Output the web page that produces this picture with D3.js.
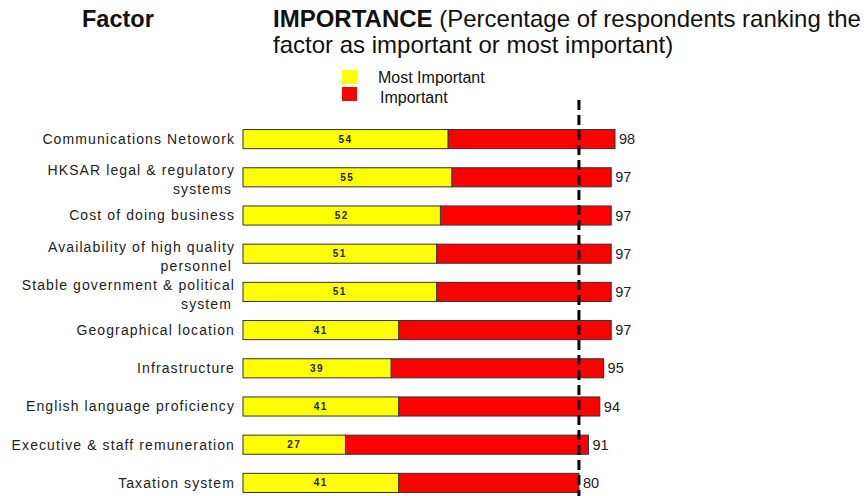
<!DOCTYPE html>
<html><head><meta charset="utf-8">
<script src="https://cdn.jsdelivr.net/npm/d3@7"></script>
<style>body{margin:0;background:#fff}svg{display:block}</style>
</head><body>
<script>
const categories = [
  ["Communications Netowork"],
  ["HKSAR legal & regulatory", "systems"],
  ["Cost of doing business"],
  ["Availability of high quality", "personnel"],
  ["Stable government & political", "system"],
  ["Geographical location"],
  ["Infrastructure"],
  ["English language proficiency"],
  ["Executive & staff remuneration"],
  ["Taxation system"]
];
const mostImportant = [54, 55, 52, 51, 51, 41, 39, 41, 27, 41];
const totalImportance = [98, 97, 97, 97, 97, 97, 95, 94, 91, 88.5];
const totalLabels = ["98", "97", "97", "97", "97", "97", "95", "94", "91", "80"];
const legendItems = ["Most Important", "Important"];
const referenceValue = 88.5;

const W = 866, H = 496;
const svg = d3.select("body").append("svg").attr("width", W).attr("height", H);
const font = "'Liberation Sans', Arial, sans-serif";

const x = d3.scaleLinear().domain([0, 98]).range([243, 615]);
const y = d3.scaleBand().domain(d3.range(categories.length)).range([120, 502]).paddingInner(0.5).paddingOuter(0.25);
const colors = d3.scaleOrdinal().domain(legendItems).range(["#ffff00", "#ff0000"]);

// titles
svg.append("text").attr("x", 82).attr("y", 27).attr("font-family", font).attr("font-size", 23.5)
  .attr("font-weight", "bold").attr("fill", "#111").text("Factor");
const t1 = svg.append("text").attr("x", 273).attr("y", 27).attr("font-family", font).attr("font-size", 24).attr("fill", "#111");
t1.append("tspan").attr("font-weight", "bold").text("IMPORTANCE");
t1.append("tspan").text(" (Percentage of respondents ranking the");
svg.append("text").attr("x", 273).attr("y", 53).attr("font-family", font).attr("font-size", 24).attr("fill", "#111")
  .text("factor as important or most important)");

// legend
const lg = svg.append("g");
legendItems.forEach((name, i) => {
  lg.append("rect").attr("x", 342).attr("y", 70 + i * 17).attr("width", 15).attr("height", 14).attr("fill", colors(name));
  lg.append("text").attr("x", 378 + i * 2).attr("y", 77.5 + i * 19.5).attr("dy", "0.35em")
    .attr("font-family", font).attr("font-size", 16).attr("fill", "#111").text(name);
});

// bars
const rows = svg.append("g").selectAll("g").data(categories).join("g");
rows.append("rect").attr("x", (d, i) => x(mostImportant[i])).attr("y", (d, i) => y(i))
  .attr("width", (d, i) => x(totalImportance[i]) - x(mostImportant[i])).attr("height", y.bandwidth())
  .attr("fill", colors("Important")).attr("stroke", "#333").attr("stroke-width", 1);
rows.append("rect").attr("x", x(0)).attr("y", (d, i) => y(i))
  .attr("width", (d, i) => x(mostImportant[i]) - x(0)).attr("height", y.bandwidth())
  .attr("fill", colors("Most Important")).attr("stroke", "#333").attr("stroke-width", 1);

// yellow labels
rows.append("text").attr("x", (d, i) => (x(0) + x(mostImportant[i])) / 2).attr("y", (d, i) => y(i) + y.bandwidth() / 2)
  .attr("dy", "0.35em").attr("text-anchor", "middle").attr("font-family", font).attr("font-size", 10)
  .attr("font-weight", "bold").attr("letter-spacing", 1.5).attr("fill", "#222").text((d, i) => mostImportant[i]);

// total labels
rows.append("text").attr("x", (d, i) => x(totalImportance[i]) + 4).attr("y", (d, i) => y(i) + y.bandwidth() / 2)
  .attr("dy", "0.35em").attr("font-family", font).attr("font-size", 14.5).attr("fill", "#222").text((d, i) => totalLabels[i]);

// category labels
const labelStyle = sel => sel.attr("text-anchor", "end").attr("font-family", font).attr("font-size", 14)
  .attr("letter-spacing", 1.1).attr("fill", "#222").attr("dy", "0.35em");
rows.each(function(d, i) {
  const g = d3.select(this);
  const cy = y(i) + y.bandwidth() / 2;
  if (d.length === 1) {
    g.append("text").attr("x", 235).attr("y", cy).call(labelStyle).text(d[0]);
  } else {
    g.append("text").attr("x", 235).attr("y", cy - 7).call(labelStyle).text(d[0]);
    g.append("text").attr("x", 232).attr("y", cy + 12).call(labelStyle).text(d[1]);
  }
});

// dashed reference line
svg.append("line").attr("x1", x(referenceValue)).attr("x2", x(referenceValue)).attr("y1", 100).attr("y2", H)
  .attr("stroke", "#000").attr("stroke-width", 3).attr("stroke-dasharray", "10,5");
</script>
</body></html>
